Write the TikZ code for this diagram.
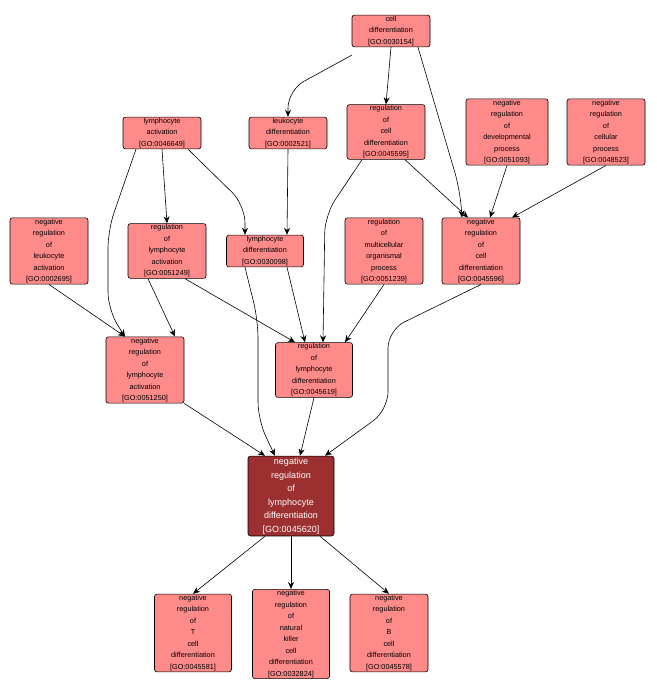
\documentclass[tikz,border=0pt]{standalone}
\usepackage{fontspec}
\setmainfont{Liberation Sans}
\usetikzlibrary{arrows.meta}
\begin{document}
\begin{tikzpicture}[x=1pt,y=-1pt,
 go/.style={draw=black,line width=0.6pt,fill=ffill,rounded corners=2.5pt,align=center,inner sep=1pt,minimum width=#1,font=\fontsize{7.3}{11.5}\selectfont},
 go/.default=78pt,
 e/.style={draw=black,line width=0.6pt,-{Stealth[length=7pt,width=6pt]},rounded corners=18pt}]
\definecolor{ffill}{HTML}{FF8A8A}
\definecolor{mfill}{HTML}{9C2F2F}
\useasboundingbox (0,0) rectangle (656,698);
\node[go] (cd) at (391,31) {cell\\differentiation\\{[GO:0030154]}};
\node[go] (la) at (162,133) {lymphocyte\\activation\\{[GO:0046649]}};
\node[go] (ld) at (288,133) {leukocyte\\differentiation\\{[GO:0002521]}};
\node[go] (rcd) at (386,132) {regulation\\of\\cell\\differentiation\\{[GO:0045595]}};
\node[go=82pt] (nrdp) at (507,132) {negative\\regulation\\of\\developmental\\process\\{[GO:0051093]}};
\node[go] (nrcp) at (606,132) {negative\\regulation\\of\\cellular\\process\\{[GO:0048523]}};
\node[go] (nrla) at (49,251) {negative\\regulation\\of\\leukocyte\\activation\\{[GO:0002695]}};
\node[go] (rla) at (167,251) {regulation\\of\\lymphocyte\\activation\\{[GO:0051249]}};
\node[go=77pt] (lyd) at (265,251) {lymphocyte\\differentiation\\{[GO:0030098]}};
\node[go] (rmop) at (384,251) {regulation\\of\\multicellular\\organismal\\process\\{[GO:0051239]}};
\node[go] (nrcd) at (481,251) {negative\\regulation\\of\\cell\\differentiation\\{[GO:0045596]}};
\node[go] (nrlya) at (145,370) {negative\\regulation\\of\\lymphocyte\\activation\\{[GO:0051250]}};
\node[go=77pt] (rlyd) at (314,370) {regulation\\of\\lymphocyte\\differentiation\\{[GO:0045619]}};
\node[go=86pt,fill=mfill,text=white,font=\fontsize{9}{13.5}\selectfont,inner sep=2pt] (m) at (291,496) {negative\\regulation\\of\\lymphocyte\\differentiation\\{[GO:0045620]}};
\node[go=77pt] (t) at (193,633) {negative\\regulation\\of\\T\\cell\\differentiation\\{[GO:0045581]}};
\node[go=77pt] (nk) at (291,634) {negative\\regulation\\of\\natural\\killer\\cell\\differentiation\\{[GO:0032824]}};
\node[go] (b) at (389,633) {negative\\regulation\\of\\B\\cell\\differentiation\\{[GO:0045578]}};
\draw[e] ([yshift=-8pt]cd.south west) -- (288,90) -- (ld.north);
\draw[e] (cd.south) -- (rcd.north);
\draw[e] ([xshift=27pt]cd.south) -- (460,190) -- ([xshift=-19pt]nrcd.north);
\draw[e] (la.south) -- (rla.north);
\draw[e] ([xshift=26pt]la.south) -- (245,205) -- ([xshift=-20pt]lyd.north);
\draw[e] ([xshift=-26pt]la.south) -- (108,230) -- (108,310) -- ([xshift=-20pt]nrlya.north);
\draw[e] (ld.south) -- ([xshift=22pt]lyd.north);
\draw[e] ([xshift=-24pt]rcd.south) -- (325,215) -- ([xshift=9pt]rlyd.north);
\draw[e] ([xshift=19pt]rcd.south) -- ([xshift=-13pt]nrcd.north);
\draw[e] (nrdp.south) -- ([xshift=9pt]nrcd.north);
\draw[e] (nrcp.south) -- ([xshift=31pt]nrcd.north);
\draw[e] (nrla.south) -- ([xshift=-20pt]nrlya.north);
\draw[e] ([xshift=-19pt]rla.south) -- ([xshift=30pt]nrlya.north);
\draw[e] ([xshift=18pt]rla.south) -- ([xshift=-19pt]rlyd.north);
\draw[e] ([xshift=22pt]lyd.south) -- ([xshift=-9pt]rlyd.north);
\draw[e] ([xshift=-20pt]lyd.south) -- (258,320) -- (258,420) -- ([xshift=-16pt]m.north);
\draw[e] (rmop.south) -- ([xshift=31pt]rlyd.north);
\draw[e] (nrcd.south) -- (388,330) -- (388,410) -- ([xshift=34pt]m.north);
\draw[e] (nrlya.south east) -- ([xshift=-26pt]m.north);
\draw[e] (rlyd.south) -- ([xshift=9pt]m.north);
\draw[e] ([xshift=-26pt]m.south) -- (t.north);
\draw[e] (m.south) -- (nk.north);
\draw[e] ([xshift=29pt]m.south) -- (b.north);
\end{tikzpicture}
\end{document}
